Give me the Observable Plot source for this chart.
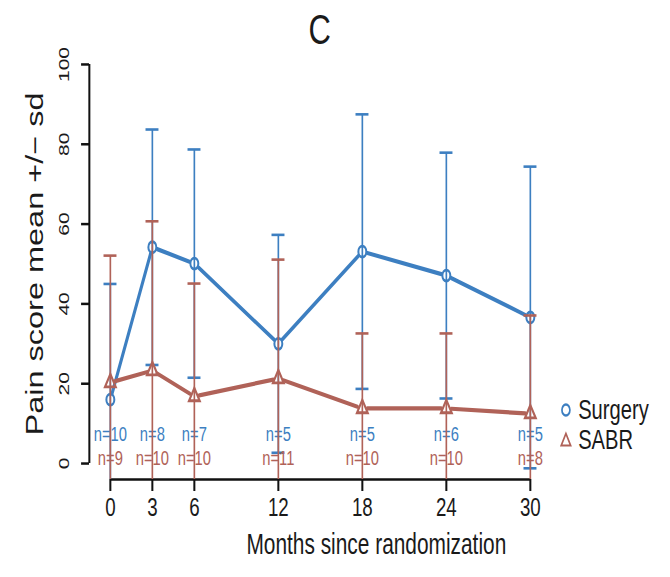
<!DOCTYPE html>
<html>
<head>
<meta charset="utf-8">
<script src="https://cdn.jsdelivr.net/npm/d3@7"></script>
<script src="https://cdn.jsdelivr.net/npm/@observablehq/plot@0.6"></script>
<style>
  body { margin: 0; background: #fff; }
  #wrap { position: relative; width: 670px; height: 577px; overflow: hidden; }
  #inner { position: absolute; left: 0; top: 0; width: 931px; height: 577px;
           transform: scaleX(0.72); transform-origin: 0 0;
           font-family: "Liberation Sans", Arial, sans-serif; color: #1a1a1a; }
  #title { position: absolute; top: 8px; left: 444px; transform: translateX(-50%);
           font-size: 43px; line-height: 1; }
  .leg { position: absolute; left: 776px; display: flex; align-items: center;
         font-size: 28px; line-height: 30px; height: 30px; }
  .leg svg { margin-right: 7px; }
</style>
</head>
<body>
<div id="wrap"><div id="inner"><div id="title">C</div></div></div>
<script>
// ---- data ----
const months = [0, 3, 6, 12, 18, 24, 30];
const surgeryMean = [16, 54.2, 50.1, 30, 53.1, 47.1, 36.6];
const surgerySd   = [29, 29.5, 28.6, 27.3, 34.4, 30.8, 37.8];
const surgeryN    = [10, 8, 7, 5, 5, 6, 5];
const sabrMean    = [20.3, 23.3, 16.8, 21.3, 13.8, 13.8, 12.5];
const sabrSd      = [31.8, 37.4, 28.3, 29.8, 18.8, 18.8, 24.6];
const sabrN       = [9, 10, 10, 11, 10, 10, 8];
const seriesNames = ["Surgery", "SABR"];
const seriesColors = ["#3d7fc1", "#b06258"];
const seriesSymbols = ["circle", "triangle"];
const xTicks = [0, 3, 6, 12, 18, 24, 30];
const yTicks = [0, 20, 40, 60, 80, 100];
const xDomain = [-1.5, 39.5];
const yDomain = [-4, 104];
const xTitle = "Months since randomization";
const yTitle = "Pain score mean +/\u2212 sd";

const rowsOf = (mean, sd, n) => months.map((m, i) => ({m, mean: mean[i], lo: mean[i] - sd[i], hi: mean[i] + sd[i], n: n[i]}));
const series = [rowsOf(surgeryMean, surgerySd, surgeryN), rowsOf(sabrMean, sabrSd, sabrN)];
const labelDy = [-39, -15];

const seriesMarks = series.flatMap((rows, k) => {
  const c = seriesColors[k];
  return [
    Plot.ruleX(rows, {x: "m", y1: "lo", y2: "hi", stroke: c, strokeWidth: 2.3, clip: true}),
    Plot.ruleY(rows, {y: "hi", x1: "m", x2: "m", insetLeft: -9, insetRight: -9, stroke: c, strokeWidth: 2.6, clip: true}),
    Plot.ruleY(rows, {y: "lo", x1: "m", x2: "m", insetLeft: -9, insetRight: -9, stroke: c, strokeWidth: 2.6, clip: true}),
    Plot.arrow(d3.pairs(rows), {x1: d => d[0].m, y1: d => d[0].mean, x2: d => d[1].m, y2: d => d[1].mean,
      headLength: 0, insetStart: 7, insetEnd: 7, stroke: c, strokeWidth: 4.2}),
    Plot.dot(rows, {x: "m", y: "mean", symbol: seriesSymbols[k], r: 5.5, stroke: c, strokeWidth: 2.8, fill: "none"}),
    Plot.text(rows, {x: "m", text: d => `n=${d.n}`, frameAnchor: "bottom", dy: labelDy[k], fill: c, fontSize: 20.5})
  ];
});

const chart = Plot.plot({
  width: 931,
  height: 577,
  marginLeft: 123.6,
  marginRight: 10.2,
  marginTop: 48,
  marginBottom: 98,
  style: {fontFamily: "Liberation Sans, Arial, sans-serif", background: "transparent", color: "#1a1a1a"},
  x: {domain: xDomain, axis: null},
  y: {domain: yDomain, axis: null},
  marks: [
    // axis lines (R style, spanning first to last tick)
    Plot.ruleY([yDomain[0]], {x1: d3.min(xTicks), x2: d3.max(xTicks), stroke: "#111", strokeWidth: 2.6}),
    Plot.ruleX([xDomain[0]], {y1: d3.min(yTicks), y2: d3.max(yTicks), stroke: "#111", strokeWidth: 2.8}),
    // tick marks
    Plot.ruleX(xTicks, {x: d => d, y1: yDomain[0], y2: yDomain[0], insetBottom: -12, stroke: "#111", strokeWidth: 2.8}),
    Plot.ruleY(yTicks, {y: d => d, x1: xDomain[0], x2: xDomain[0], insetLeft: -11, stroke: "#111", strokeWidth: 2.5}),
    // tick labels
    Plot.text(xTicks, {x: d => d, text: d => String(d), frameAnchor: "bottom", dy: 36, fontSize: 26, fill: "#1a1a1a"}),
    Plot.text(yTicks, {y: d => d, text: d => String(d), frameAnchor: "left", dx: -35.5, rotate: -90, textAnchor: "middle", fontSize: 21, fill: "#1a1a1a"}),
    // axis titles
    Plot.text([xTitle], {frameAnchor: "bottom", dy: 74, fontSize: 29, fill: "#1a1a1a"}),
    Plot.text([yTitle], {frameAnchor: "left", rotate: -90, dx: -75, textAnchor: "middle", fontSize: 32.5, fill: "#1a1a1a"}),
    ...seriesMarks
  ]
});
chart.style.position = "absolute";
chart.style.left = "0px";
chart.style.top = "0px";
const inner = document.getElementById("inner");
inner.insertBefore(chart, inner.firstChild);

// legend
const legendTops = [395, 425];
seriesNames.forEach((name, k) => {
  const row = document.createElement("div");
  row.className = "leg";
  row.style.top = legendTops[k] + "px";
  const sym = k === 0
    ? `<circle cx="10" cy="12" r="5.5" fill="none" stroke="${seriesColors[k]}" stroke-width="2.4"/>`
    : `<path d="M10,5.5 L16.5,17.5 L3.5,17.5 Z" fill="none" stroke="${seriesColors[k]}" stroke-width="2.2"/>`;
  row.innerHTML = `<svg width="20" height="24" viewBox="0 0 20 24">${sym}</svg><span>${name}</span>`;
  inner.appendChild(row);
});
</script>
</body>
</html>
